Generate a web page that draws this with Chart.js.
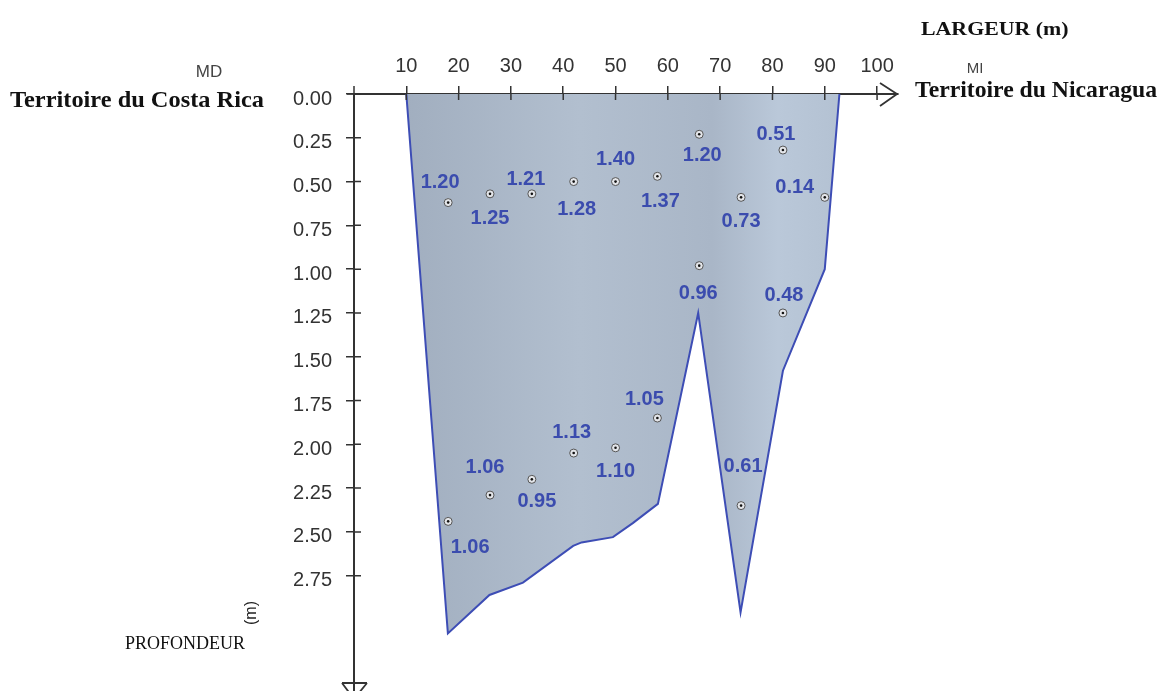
<!DOCTYPE html>
<html>
<head>
<meta charset="utf-8">
<script src="https://cdn.jsdelivr.net/npm/chart.js@4.4.1/dist/chart.umd.min.js"></script>
<style>
  html, body { margin: 0; padding: 0; background: #fff; }
  #wrap { width: 1166px; height: 691px; position: relative; }
</style>
</head>
<body>
<div id="wrap"><canvas id="chart" width="1166" height="691"></canvas></div>
<script>
// river bed outline (width in m, depth in m)
const bedX     = [10, 17.95, 25.9, 32.3, 41.9, 43.5, 49.5, 53.3, 58.1, 65.8, 73.9, 82.0, 90.0, 92.8];
const bedDepth = [0,  3.08,  2.86, 2.79, 2.58, 2.56, 2.53, 2.45, 2.34, 1.25, 2.96, 1.58, 1.00, 0];

// measurement points and measured velocities
const ptX     = [18, 26, 34, 42, 50, 58, 66, 74, 82, 90, 66, 82, 58, 50, 42, 34, 26, 18, 74];
const ptDepth = [0.62, 0.57, 0.57, 0.50, 0.50, 0.47, 0.23, 0.59, 0.32, 0.59,
                 0.98, 1.25, 1.85, 2.02, 2.05, 2.20, 2.29, 2.44, 2.35];
const velocity = ['1.20', '1.25', '1.21', '1.28', '1.40', '1.37', '1.20', '0.73', '0.51', '0.14',
                  '0.96', '0.48', '1.05', '1.10', '1.13', '0.95', '1.06', '1.06', '0.61'];

// axis ticks
const xTicks = [10, 20, 30, 40, 50, 60, 70, 80, 90, 100];
const yTicks = [0, 0.25, 0.5, 0.75, 1, 1.25, 1.5, 1.75, 2, 2.25, 2.5, 2.75];

// where each velocity label sits relative to its point (px)
const labelShift = [[-8,-20],[0,25],[-6,-14],[3,28],[0,-22],[3,25],[3,21],[0,24],[-7,-16],[-30,-10],
                    [-1,28],[1,-17],[-13,-19],[0,24],[-2,-21],[5,22],[-5,-28],[22,26],[2,-39]];

const bedPts = bedX.map((x, i) => ({x: x, y: bedDepth[i]}));
const pts = ptX.map((x, i) => ({x: x, y: ptDepth[i]}));

function stretchText(ctx, txt, x, y, font, color, sx, align) {
    ctx.save();
    ctx.font = font;
    ctx.fillStyle = color;
    ctx.textAlign = align || 'left';
    ctx.textBaseline = 'middle';
    ctx.translate(x, y);
    ctx.scale(sx, 1);
    ctx.fillText(txt, 0, 0);
    ctx.restore();
}

// velocity labels
const labelPlugin = {
    id: 'labelPlugin',
    afterDatasetsDraw(chart) {
        const ctx = chart.ctx;
        const xs = chart.scales.x, ys = chart.scales.y;
        ctx.save();
        ctx.font = 'bold 20px "Liberation Sans", Arial, sans-serif';
        ctx.fillStyle = '#3b4cae';
        ctx.textAlign = 'center';
        ctx.textBaseline = 'middle';
        velocity.forEach((v, i) => {
            const px = xs.getPixelForValue(ptX[i]) + labelShift[i][0];
            const py = ys.getPixelForValue(ptDepth[i]) + labelShift[i][1];
            ctx.fillText(v, px, py);
        });
        ctx.restore();
    }
};

// crossing ticks, arrows and the side texts
const axisExtras = {
    id: 'axisExtras',
    afterDraw(chart) {
        const ctx = chart.ctx;
        const xs = chart.scales.x, ys = chart.scales.y;
        const a = chart.chartArea;
        const H = chart.height;
        ctx.save();
        ctx.strokeStyle = '#333';
        ctx.lineWidth = 1.5;
        ctx.beginPath();
        xTicks.forEach(t => {
            const px = xs.getPixelForValue(t);
            ctx.moveTo(px, a.top); ctx.lineTo(px, a.top + 6);
        });
        yTicks.forEach(t => {
            const py = ys.getPixelForValue(t);
            ctx.moveTo(a.left, py); ctx.lineTo(a.left + 7, py);
        });
        // axis stubs past the origin
        ctx.moveTo(a.left - 7, a.top); ctx.lineTo(a.left, a.top);
        ctx.moveTo(a.left, a.top - 8); ctx.lineTo(a.left, a.top);
        ctx.stroke();
        ctx.lineWidth = 2;
        ctx.beginPath();
        ctx.moveTo(a.left, a.bottom); ctx.lineTo(a.left, H);
        ctx.stroke();

        // x arrow
        ctx.lineWidth = 1.8;
        ctx.beginPath();
        ctx.moveTo(a.right - 18, a.top - 11);
        ctx.lineTo(a.right - 1, a.top);
        ctx.lineTo(a.right - 18, a.top + 12);
        ctx.stroke();
        // y arrow (open triangle, cut by the page)
        ctx.beginPath();
        ctx.moveTo(a.left - 12, H - 8);
        ctx.lineTo(a.left + 13, H - 8);
        ctx.moveTo(a.left - 12, H - 8);
        ctx.lineTo(a.left, H + 8);
        ctx.lineTo(a.left + 13, H - 8);
        ctx.stroke();
        ctx.restore();

        const serifB = 'bold 23px "Liberation Serif", "Times New Roman", serif';
        stretchText(ctx, 'LARGEUR (m)', 921, 30, 'bold 19px "Liberation Serif", serif', '#111', 1.15);
        stretchText(ctx, 'MI', 975, 69, '15px "Liberation Sans", Arial, sans-serif', '#444', 1, 'center');
        stretchText(ctx, 'Territoire du Nicaragua', 915, 91, serifB, '#111', 1.03);
        stretchText(ctx, 'MD', 209, 72, '17px "Liberation Sans", Arial, sans-serif', '#444', 1, 'center');
        stretchText(ctx, 'Territoire du Costa Rica', 10, 101, serifB, '#111', 1.06);
        stretchText(ctx, 'PROFONDEUR', 125, 644, '18px "Liberation Serif", serif', '#111', 1);
        ctx.save();
        ctx.translate(252, 613);
        ctx.rotate(-Math.PI / 2);
        ctx.font = '16px "Liberation Sans", Arial, sans-serif';
        ctx.fillStyle = '#222';
        ctx.textAlign = 'center';
        ctx.textBaseline = 'middle';
        ctx.fillText('(m)', 0, 0);
        ctx.restore();
    }
};

function bedFill(context) {
    const chart = context.chart;
    const a = chart.chartArea;
    if (!a) return '#abb8c8';
    const g = chart.ctx.createLinearGradient(a.left + 50, 0, a.left + 490, 0);
    g.addColorStop(0, '#a1aebf');
    g.addColorStop(0.4, '#b2bfcf');
    g.addColorStop(0.7, '#a9b6c7');
    g.addColorStop(0.85, '#bac8d9');
    g.addColorStop(1, '#b3c1d2');
    return g;
}

const ctx = document.getElementById('chart');
const myChart = new Chart(ctx, {
    type: 'line',
    data: {
        datasets: [{
            label: 'bed',
            data: bedPts,
            borderColor: '#3d4db5',
            borderWidth: 2,
            backgroundColor: bedFill,
            fill: {value: 0},
            tension: 0,
            pointRadius: 0,
            clip: false,
            order: 3
        }, {
            label: 'points',
            data: pts,
            showLine: false,
            pointRadius: 4,
            pointBackgroundColor: '#e4e6ea',
            pointBorderColor: '#555',
            pointBorderWidth: 1,
            order: 2
        }, {
            label: 'dots',
            data: pts,
            showLine: false,
            pointRadius: 1.3,
            pointBackgroundColor: '#111',
            pointBorderWidth: 0,
            order: 1
        }]
    },
    options: {
        responsive: false,
        animation: false,
        layout: {
            padding: {top: 0, left: 0, right: 268, bottom: 0}
        },
        plugins: {
            legend: {display: false},
            tooltip: {enabled: false},
            title: {display: false}
        },
        scales: {
            x: {
                type: 'linear',
                position: 'top',
                min: 0,
                max: 104,
                afterBuildTicks: s => { s.ticks = xTicks.map(v => ({value: v})); },
                afterFit: s => { s.height = 94; },
                grid: {drawOnChartArea: false, tickLength: 8, color: '#333', lineWidth: 1.5},
                border: {color: '#333', width: 2},
                ticks: {
                    color: '#333',
                    padding: 8,
                    maxRotation: 0,
                    font: {family: '"Liberation Sans", Arial, sans-serif', size: 20}
                }
            },
            y: {
                type: 'linear',
                reverse: true,
                min: 0,
                max: 3.26,
                afterBuildTicks: s => { s.ticks = yTicks.map(v => ({value: v})); },
                afterFit: s => { s.width = 354; },
                grid: {drawOnChartArea: false, tickLength: 8, color: '#333', lineWidth: 1.5},
                border: {color: '#333', width: 2},
                ticks: {
                    color: '#333',
                    padding: 14,
                    labelOffset: 5,
                    callback: v => Number(v).toFixed(2),
                    font: {family: '"Liberation Sans", Arial, sans-serif', size: 20}
                }
            }
        }
    },
    plugins: [labelPlugin, axisExtras]
});
</script>
</body>
</html>
